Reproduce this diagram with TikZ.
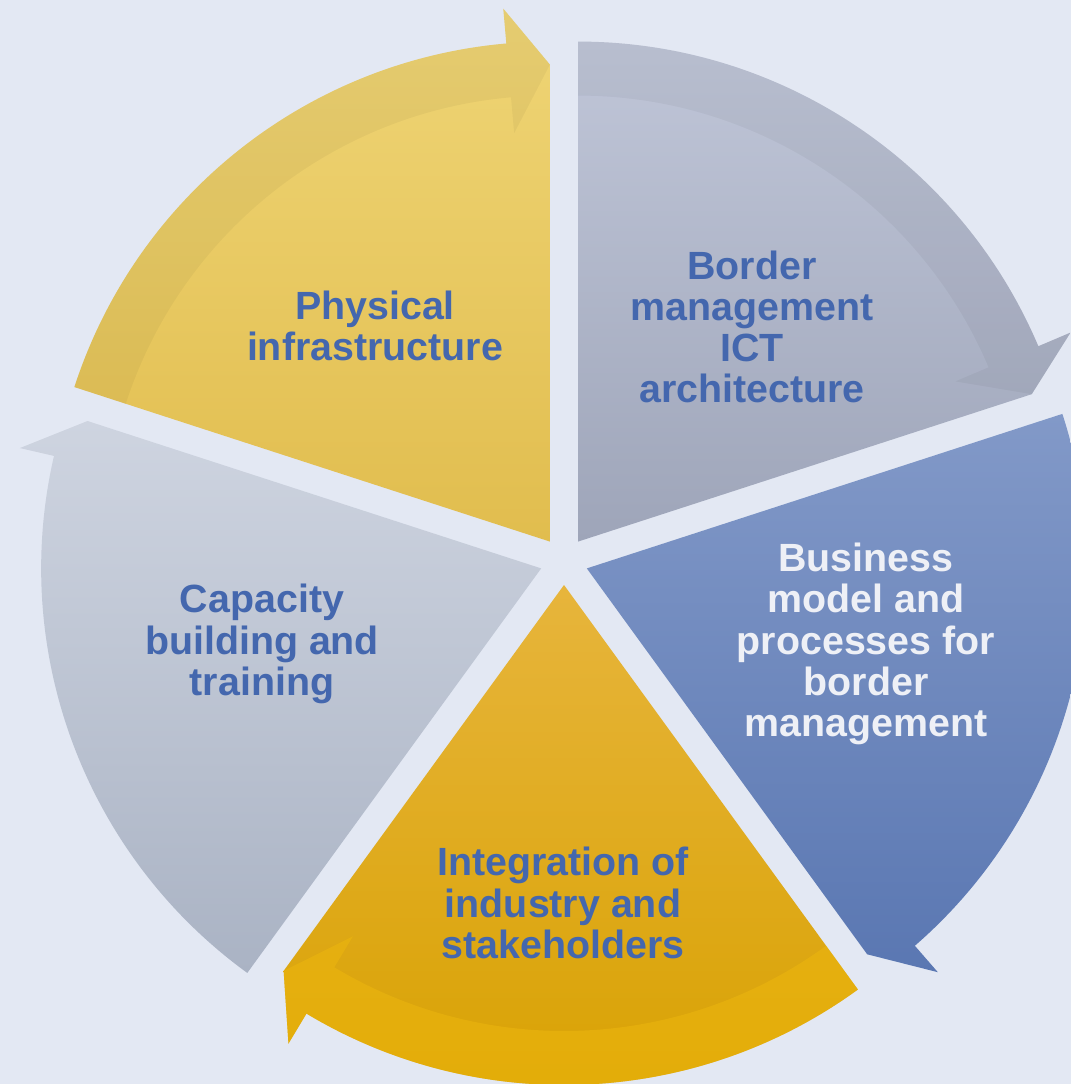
\documentclass[tikz,border=0pt]{standalone}
\usepackage{fontspec}
\setmainfont{Liberation Sans}
\usepackage{xcolor}
\usepackage{tikz}
\usetikzlibrary{calc}

\definecolor{bgcol}{RGB}{227,232,243}
\definecolor{txtblue}{RGB}{68,103,174}
\definecolor{txtwhite}{RGB}{238,240,246}
\definecolor{physTop}{RGB}{239,213,118}
\definecolor{physBot}{RGB}{225,189,78}
\definecolor{bordTop}{RGB}{192,198,216}
\definecolor{bordBot}{RGB}{158,165,185}
\definecolor{busTop}{RGB}{130,153,200}
\definecolor{busBot}{RGB}{90,119,178}
\definecolor{intTop}{RGB}{231,181,60}
\definecolor{intBot}{RGB}{216,161,0}
\definecolor{intBand}{RGB}{238,184,14}
\definecolor{capTop}{RGB}{206,212,224}
\definecolor{capBot}{RGB}{170,179,196}

\tikzstyle{seglabel} = [align=center, text=txtblue, font=\fontsize{11.2pt}{11.7pt}\selectfont\bfseries]
\tikzstyle{darkband} = [fill=black, fill opacity=0.04]
\tikzstyle{lightband} = [fill=intBand, fill opacity=0.5]

\begin{document}
\begin{tikzpicture}[x=0.1mm, y=0.1mm]
\fill[bgcol] (0,0) rectangle (1071,1084);
\useasboundingbox (0,0) rectangle (1071,1084);

% centre of the cycle and the exploded segment corners
\coordinate (c) at (564,523);
\coordinate (phys) at ($(c)+(126:24)$);
\coordinate (bord) at ($(c)+(54:24)$);
\coordinate (bus) at ($(c)+(-18:24)$);
\coordinate (integ) at ($(c)+(-90:24)$);
\coordinate (cap) at ($(c)+(198:24)$);

% Physical infrastructure
\shade[top color=physTop, bottom color=physBot] (phys) -- ($(phys)+(162:500)$) arc[start angle=162, end angle=95, radius=500] -- ($(phys)+(95:535)$) -- ($(phys)+(90:477)$) -- cycle;
\fill[darkband] ($(phys)+(162:446)$) -- ($(phys)+(162:500)$) arc[start angle=162, end angle=95, radius=500] -- ($(phys)+(95:535)$) -- ($(phys)+(90:477)$) -- ($(phys)+(95:410)$) -- ($(phys)+(95:446)$) arc[start angle=95, end angle=162, radius=446] -- cycle;

% Border management ICT architecture
\shade[top color=bordTop, bottom color=bordBot] (bord) -- ($(bord)+(90:500)$) arc[start angle=90, end angle=23, radius=500] -- ($(bord)+(23:535)$) -- ($(bord)+(18:477)$) -- cycle;
\fill[darkband] ($(bord)+(90:446)$) -- ($(bord)+(90:500)$) arc[start angle=90, end angle=23, radius=500] -- ($(bord)+(23:535)$) -- ($(bord)+(18:477)$) -- ($(bord)+(23:410)$) -- ($(bord)+(23:446)$) arc[start angle=23, end angle=90, radius=446] -- cycle;

% Business model and processes
\shade[top color=busTop, bottom color=busBot] (bus) -- ($(bus)+(18:500)$) arc[start angle=18, end angle=-49, radius=500] -- ($(bus)+(-49:535)$) -- ($(bus)+(-54:477)$) -- cycle;

% Integration of industry and stakeholders
\shade[top color=intTop, bottom color=intBot] (integ) -- ($(integ)+(-54:500)$) arc[start angle=-54, end angle=-121, radius=500] -- ($(integ)+(-121:535)$) -- ($(integ)+(-126:477)$) -- cycle;
\fill[lightband] ($(integ)+(-54:446)$) -- ($(integ)+(-54:500)$) arc[start angle=-54, end angle=-121, radius=500] -- ($(integ)+(-121:535)$) -- ($(integ)+(-126:477)$) -- ($(integ)+(-121:410)$) -- ($(integ)+(-121:446)$) arc[start angle=-121, end angle=-54, radius=446] -- cycle;

% Capacity building and training
\shade[top color=capTop, bottom color=capBot] (cap) -- ($(cap)+(234:500)$) arc[start angle=234, end angle=167, radius=500] -- ($(cap)+(167:535)$) -- ($(cap)+(162:477)$) -- cycle;

\node (physlbl) [seglabel] at (375,758) {Physical\\infrastructure};
\node (bordlbl) [seglabel] at (752,757) {Border\\management\\ICT\\architecture};
\node (buslbl) [seglabel, text=txtwhite] at (866,440) {Business\\model and\\processes for\\border\\management};
\node (intlbl) [seglabel] at (563,181) {Integration of\\industry and\\stakeholders};
\node (caplbl) [seglabel] at (262,440) {Capacity\\building and\\training};
\end{tikzpicture}
\end{document}
